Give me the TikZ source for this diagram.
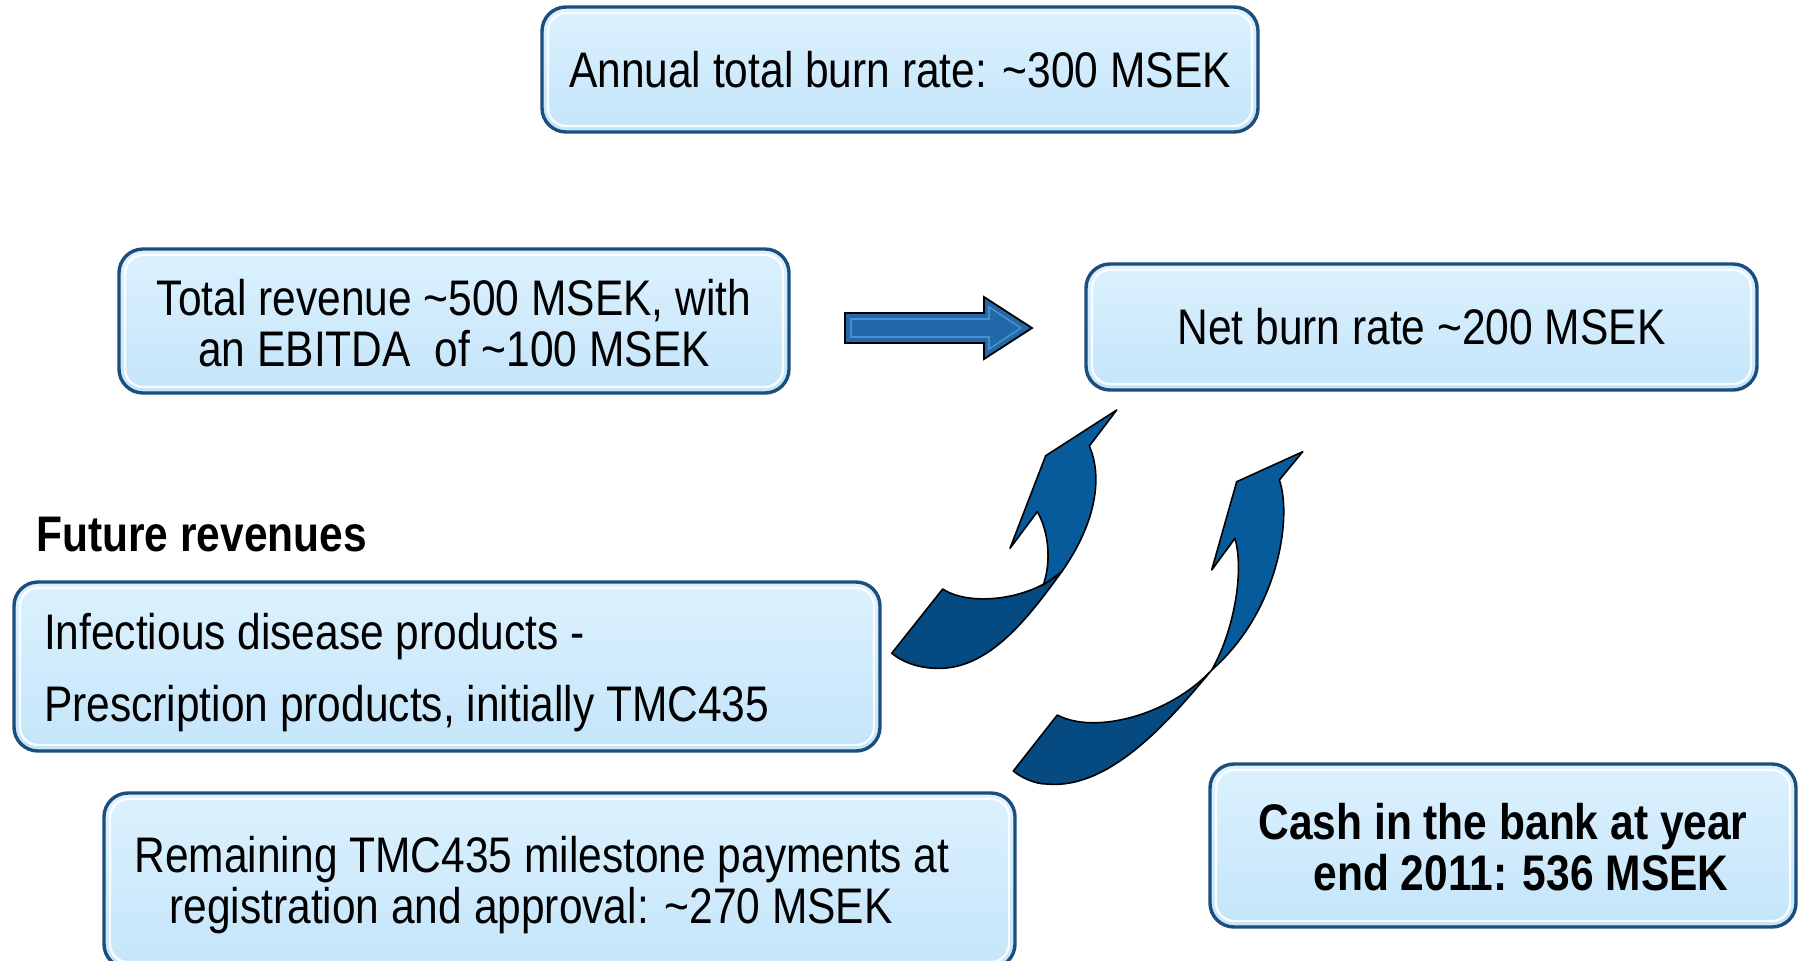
\documentclass[tikz,border=0pt]{standalone}
\usepackage{fontspec}
\setmainfont{Liberation Sans}[FakeStretch=0.85]
\usetikzlibrary{calc}
\definecolor{bxline}{HTML}{1B4E7D}
\definecolor{bxtop}{HTML}{DCF1FE}
\definecolor{bxbot}{HTML}{C4E5FA}
\definecolor{arrhead}{HTML}{075B9B}
\definecolor{arrtail}{HTML}{054A80}
\definecolor{sarrow}{HTML}{2269AA}
\definecolor{sarrowlt}{HTML}{4A8FCC}
\newcommand\tld{\textasciitilde}
\tikzset{
  bx/.style={rectangle, rounded corners=12pt, draw=bxline, line width=1.7pt,
    top color=bxtop, bottom color=bxbot, inner sep=0pt, align=center,
    font=\fontsize{25}{25.5}\selectfont,
    path picture={\draw[white, line width=1.2pt, rounded corners=9pt, opacity=0.9]
      ([shift={(3pt,3pt)}]path picture bounding box.south west) rectangle
      ([shift={(-3pt,-3pt)}]path picture bounding box.north east);}},
  head/.style={fill=arrhead, draw=black, line width=0.8pt, line join=round},
  tail/.style={fill=arrtail, draw=black, line width=0.8pt, line join=round},
}
\begin{document}
\begin{tikzpicture}[x=0.5pt, y=-0.5pt]
\useasboundingbox (0,0) rectangle (1798,960);
\fill[white] (0,0) rectangle (1798,960);

\node[bx, minimum width=358pt, minimum height=62.5pt] (annual) at (900,69.5)
  {Annual total burn rate: \tld300 MSEK};
\node[bx, minimum width=335pt, minimum height=72pt] (rev) at (454,321)
  {\rule{0pt}{20pt}Total revenue \tld500 MSEK, with\\an EBITDA\ \ of \tld100 MSEK};
\node[bx, minimum width=335.5pt, minimum height=63pt] (net) at (1421.5,327)
  {Net burn rate \tld200 MSEK};
\node[font=\bfseries\fontsize{25}{25.5}\selectfont, anchor=west, inner sep=0pt] (future) at (36,535)
  {Future revenues};
\node[bx, align=flush left, inner xsep=15pt, text width=403pt, minimum height=84.5pt] (inf) at (447,666.5)
  {\rule{0pt}{24.3pt}Infectious disease products -\\[10.5pt]Prescription products, initially TMC435};
\node[bx, minimum width=455.5pt, minimum height=87.5pt] (rem) at (559.5,880.5)
  {\rule{0pt}{23pt}Remaining TMC435 milestone payments at\hspace*{17.5pt}\\registration and approval: \tld270 MSEK\hspace*{28.5pt}};
\node[bx, font=\bfseries\fontsize{25}{25.5}\selectfont, minimum width=293pt, minimum height=81.5pt] (cash) at (1503,845.5)
  {\rule{0pt}{20pt}Cash in the bank at year\\\hspace*{18pt}end 2011: 536 MSEK};

% straight arrow
\draw[fill=sarrow, draw=black, line width=0.9pt, line join=miter]
  (845,313) -- (984,313) -- (984,297) -- (1032,328) -- (984,359) -- (984,343) -- (845,343) -- cycle;
\draw[sarrowlt, line width=0.8pt]
  (851,319) -- (989,319) -- (989,307) -- (1021,328) -- (989,349) -- (989,337) -- (851,337) -- cycle;

% curved arrow 1
\path[tail] (891.7,653.3) -- (942.7,589)
  .. controls (970,607) and (1030,600) .. (1061.7,571.7)
  .. controls (1030,615) and (990,670) .. (936.7,668.3)
  .. controls (915,668) and (900,660) .. cycle;
\path[head] (1043.3,585)
  .. controls (1052,560) and (1048,530) .. (1037.3,511.7)
  -- (1010,548.3) -- (1045.7,455.7) -- (1116.7,410) -- (1089.3,446)
  .. controls (1102,475) and (1098,520) .. (1061.7,571.7) -- cycle;

% curved arrow 2
\path[tail] (1013.3,771) -- (1057.3,715)
  .. controls (1095,735) and (1170,715) .. (1211.7,670)
  .. controls (1170,720) and (1110,790) .. (1046.7,784)
  .. controls (1035,784) and (1022,778) .. cycle;
\path[head] (1211.7,670)
  .. controls (1232,635) and (1245,575) .. (1235,538.3)
  -- (1211.7,570) -- (1236.7,481.7) -- (1302.7,451.7) -- (1279.3,480)
  .. controls (1292,515) and (1280,610) .. cycle;
\end{tikzpicture}
\end{document}
